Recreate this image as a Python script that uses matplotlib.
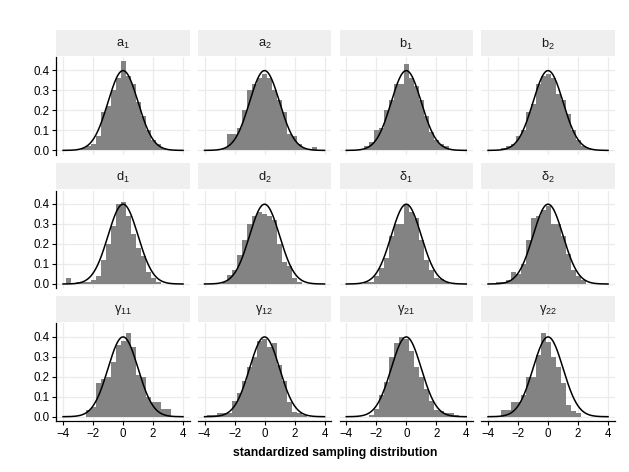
import numpy as np
import matplotlib
matplotlib.use("Agg")
import matplotlib.pyplot as plt

plt.rcParams['font.family'] = ['Liberation Sans', 'DejaVu Sans']
plt.rcParams['mathtext.fontset'] = 'custom'
plt.rcParams['mathtext.rm'] = 'Liberation Sans'
plt.rcParams['mathtext.it'] = 'Liberation Sans:italic'
plt.rcParams['axes.unicode_minus'] = True

# ---- data ----
labels = [r'$\mathrm{a}_1$', r'$\mathrm{a}_2$', r'$\mathrm{b}_1$', r'$\mathrm{b}_2$',
          r'$\mathrm{d}_1$', r'$\mathrm{d}_2$', r'$\mathrm{δ}_1$', r'$\mathrm{δ}_2$',
          r'$\mathrm{γ}_{11}$', r'$\mathrm{γ}_{12}$', r'$\mathrm{γ}_{21}$', r'$\mathrm{γ}_{22}$']

# bin centres (width 1/3) from -4 to 4
bin_centers = [k / 3 for k in range(-12, 13)]
bin_width = 1 / 3

#            -4.0  -3.67 -3.33 -3.0  -2.67 -2.33 -2.0  -1.67 -1.33 -1.0  -0.67 -0.33  0.0  0.33  0.67  1.0   1.33  1.67  2.0   2.33  2.67  3.0   3.33  3.67  4.0
a1 =        [0,    0,    0,    0,    0.01, 0.02, 0.03, 0.07, 0.19, 0.22, 0.30, 0.36, 0.445,0.37, 0.33, 0.24, 0.17, 0.10, 0.05, 0.03, 0.01, 0,    0,    0,    0]
a2 =        [0,    0,    0,    0,    0.01, 0.08, 0.08, 0.11, 0.20, 0.30, 0.33, 0.36, 0.38, 0.36, 0.30, 0.25, 0.19, 0.08, 0.07, 0.03, 0.01, 0,    0.015,0,    0]
b1 =        [0,    0,    0,    0,    0.02, 0.04, 0.10, 0.11, 0.20, 0.25, 0.33, 0.33, 0.433,0.36, 0.32, 0.25, 0.17, 0.09, 0.05, 0.03, 0.02, 0,    0,    0,    0]
b2 =        [0,    0,    0,    0.01, 0.02, 0.03, 0.07, 0.10, 0.19, 0.23, 0.33, 0.37, 0.38, 0.36, 0.28, 0.25, 0.18, 0.10, 0.05, 0.02, 0.01, 0,    0,    0,    0]
d1 =        [0,    0.03, 0,    0.01, 0.01, 0.01, 0.02, 0.04, 0.12, 0.20, 0.29, 0.40, 0.41, 0.34, 0.25, 0.18, 0.14, 0.06, 0.03, 0.01, 0,    0,    0,    0,    0]
d2 =        [0,    0,    0,    0,    0.01, 0.045,0.07, 0.145,0.22, 0.30, 0.34, 0.36, 0.35, 0.34, 0.32, 0.20, 0.11, 0.09, 0.03, 0.01, 0,    0,    0,    0,    0]
delta1 =    [0,    0,    0,    0,    0.01, 0.01, 0.04, 0.08, 0.13, 0.24, 0.30, 0.30, 0.40, 0.36, 0.33, 0.22, 0.12, 0.07, 0.03, 0.025,0.01, 0,    0,    0,    0]
delta2 =    [0,    0,    0.01, 0.01, 0.02, 0.06, 0.05, 0.10, 0.22, 0.33, 0.34, 0.37, 0.39, 0.30, 0.30, 0.24, 0.15, 0.07, 0.04, 0.02, 0,    0,    0,    0,    0]
gamma11 =   [0,    0,    0,    0,    0,    0.033,0.05, 0.17, 0.19, 0.20, 0.275,0.36, 0.38, 0.42, 0.35, 0.21, 0.20, 0.10, 0.075,0.075,0.04, 0.04, 0,    0,    0]
gamma12 =   [0,    0.01, 0.01, 0.02, 0.02, 0.02, 0.08, 0.12, 0.18, 0.25, 0.30, 0.38, 0.39, 0.35, 0.37, 0.26, 0.18, 0.075,0.025,0.02, 0.01, 0,    0,    0,    0]
gamma21 =   [0,    0,    0,    0,    0,    0.01, 0.04, 0.11, 0.175,0.30, 0.37, 0.40, 0.39, 0.33, 0.25, 0.20, 0.14, 0.08, 0.035,0.03, 0.02, 0.02, 0.01, 0,    0]
gamma22 =   [0,    0,    0,    0.035,0.035,0.075,0.075,0.11, 0.20, 0.20, 0.31, 0.42, 0.375,0.30, 0.25, 0.17, 0.06, 0.03, 0.02, 0,    0,    0,    0,    0,    0]

series = [a1, a2, b1, b2, d1, d2, delta1, delta2, gamma11, gamma12, gamma21, gamma22]

x_ticks = [-4, -2, 0, 2, 4]
y_ticks = [0.0, 0.1, 0.2, 0.3, 0.4]

# ---- figure ----
W, H = 629, 472
fig = plt.figure(figsize=(W / 100, H / 100), dpi=100)

col_left = [56.3, 197.8, 339.5, 481.3]
panel_w = 133.5
row_top = [57.0, 190.6, 323.3]
panel_h = 97.8
strip_h = 26.0
strip_gap = 1.5

xc = np.linspace(-4, 4, 400)
dens = np.exp(-xc ** 2 / 2) / np.sqrt(2 * np.pi)

grid_col = '#ebebeb'
for i, (lab, vals) in enumerate(zip(labels, series)):
    r, c = divmod(i, 4)
    l = col_left[c] / W
    b = 1 - (row_top[r] + panel_h) / H
    ax = fig.add_axes([l, b, panel_w / W, panel_h / H])
    ax.set_facecolor('white')
    ax.bar(bin_centers, vals, width=bin_width, color='#838383', edgecolor='none', zorder=2)
    ax.plot(xc, dens, color='black', lw=1.1, zorder=3)
    ax.set_xlim(-4.45, 4.45)
    ax.set_ylim(-0.022, 0.467)
    ax.set_xticks(x_ticks)
    ax.set_yticks(y_ticks)
    ax.grid(True, color=grid_col, lw=0.9, zorder=0)
    ax.set_axisbelow(True)
    for s in ax.spines.values():
        s.set_visible(False)
    ax.tick_params(length=0, labelsize=8.3, colors='black', pad=2)
    if c == 0:
        ax.spines['left'].set_visible(True)
        ax.spines['left'].set_linewidth(0.9)
        ax.tick_params(axis='y', length=3, width=0.8)
        ax.set_yticklabels([f'{v:.1f}' for v in y_ticks])
    else:
        ax.set_yticklabels([])
    if r == 2:
        ax.spines['bottom'].set_visible(True)
        ax.spines['bottom'].set_linewidth(0.9)
        ax.tick_params(axis='x', length=3, width=0.8)
        ax.set_xticklabels([f'{v}'.replace('-', '\u2212') for v in x_ticks])
    else:
        ax.set_xticklabels([])
    # strip
    sb = 1 - (row_top[r] - strip_gap) / H
    sax = fig.add_axes([l, sb, panel_w / W, strip_h / H])
    sax.set_facecolor('#efefef')
    sax.set_xticks([]); sax.set_yticks([])
    for s in sax.spines.values():
        s.set_visible(False)
    sax.text(0.5, 0.44, lab, ha='center', va='center', fontsize=9.3, color='#1a1a1a',
             transform=sax.transAxes)

fig.text((col_left[0] + col_left[3] + panel_w) / 2 / W, 1 - 453 / H,
         'standardized sampling distribution', ha='center', va='center',
         fontsize=8.8, fontweight='bold')

fig.savefig('out.png', dpi=100, facecolor='white')
